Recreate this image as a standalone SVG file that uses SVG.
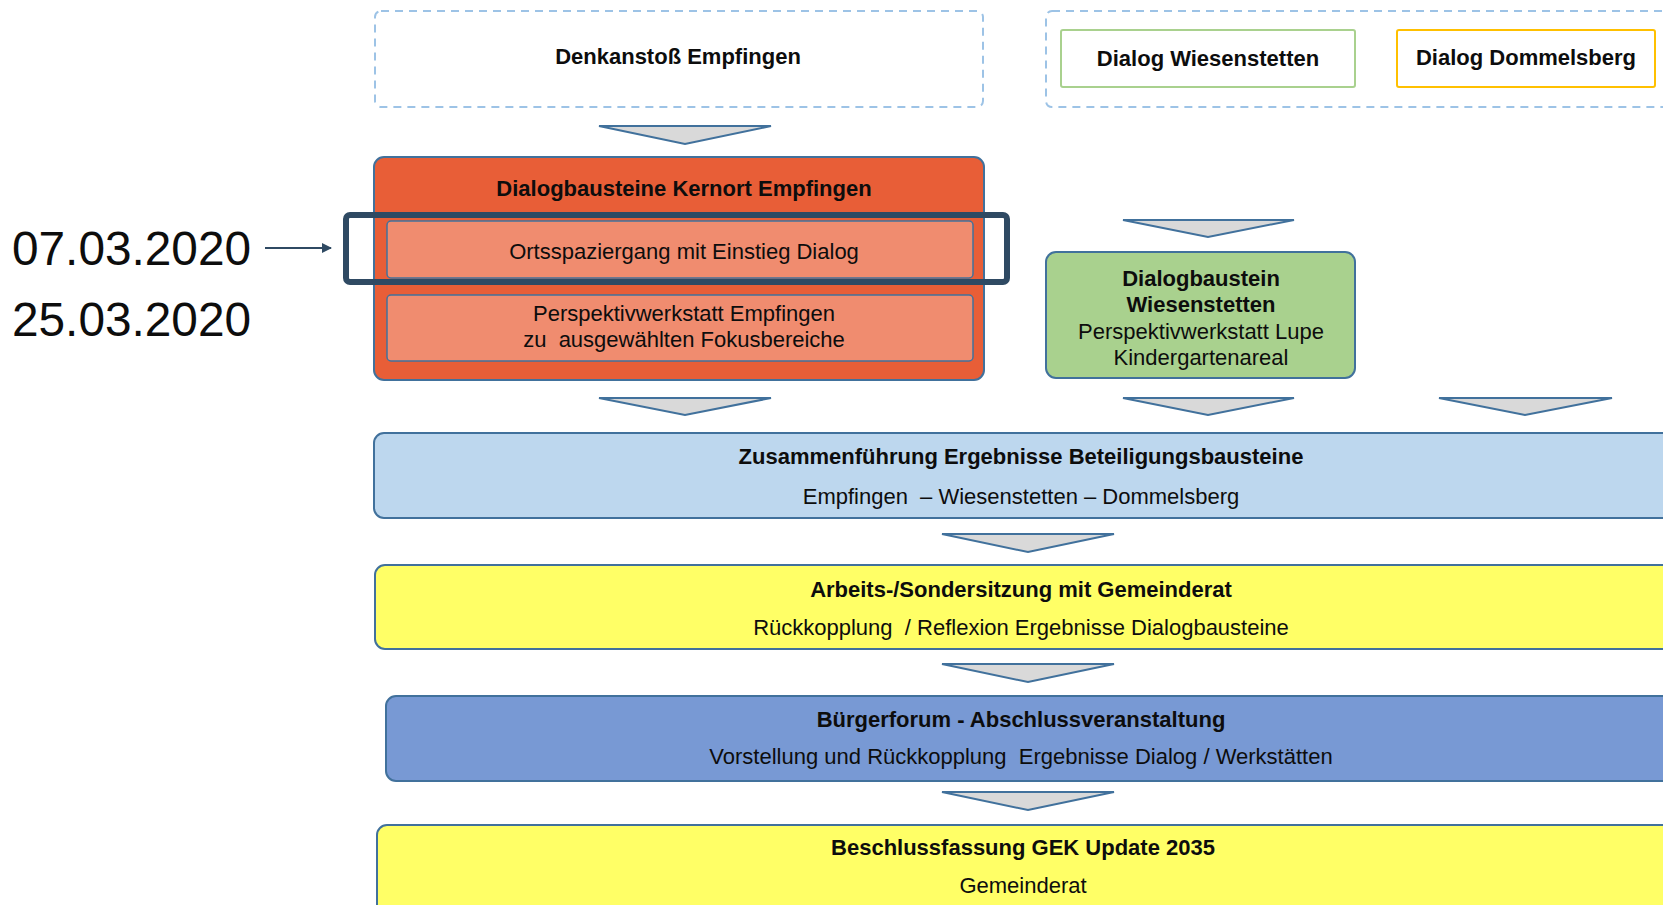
<svg xmlns="http://www.w3.org/2000/svg" width="1663" height="905" viewBox="0 0 1663 905">
<style>
text{font-family:"Liberation Sans",Arial,sans-serif;fill:#0d0d0d;text-anchor:middle}
.b{font-weight:bold;font-size:22px}
.r{font-size:22px}
.dash{fill:#fff;stroke:#9dc3e6;stroke-width:2;stroke-dasharray:8 6}
.box{stroke:#41719c;stroke-width:2}
.tri{fill:#d9d9d9;stroke:#41719c;stroke-width:2;stroke-linejoin:miter}
.date{font-size:48px;text-anchor:start}
</style>
<defs>
<marker id="ah" markerWidth="10" markerHeight="10" refX="9" refY="5" orient="auto" markerUnits="userSpaceOnUse">
<path d="M0,0 L10,5 L0,10 z" fill="#2f4a63"/>
</marker>
</defs>
<rect width="1663" height="905" fill="#fff"/>

<g id="denkanstoss">
<rect class="dash" x="375" y="11" width="608" height="96" rx="6"/>
<text class="b" x="678" y="64">Denkanstoß Empfingen</text>
</g>

<g id="dialog-gruppe">
<rect class="dash" x="1046" y="11" width="640" height="96" rx="6"/>
</g>

<g id="dialog-wiesenstetten">
<rect x="1061" y="30" width="294" height="57" rx="2" fill="#fff" stroke="#a9d18e" stroke-width="2"/>
<text class="b" x="1208" y="66">Dialog Wiesenstetten</text>
</g>

<g id="dialog-dommelsberg">
<rect x="1397" y="30" width="258" height="57" rx="2" fill="#fff" stroke="#ffc000" stroke-width="2"/>
<text class="b" x="1526" y="65">Dialog Dommelsberg</text>
</g>

<g id="kernort-empfingen">
<rect class="box" x="374" y="157" width="610" height="223" rx="10" fill="#e85e37"/>
<text class="b" x="684" y="196">Dialogbausteine Kernort Empfingen</text>
</g>

<g id="ortsspaziergang">
<rect x="387" y="221" width="586" height="57" rx="4" fill="#f08c6f" stroke="#41719c" stroke-width="1.5"/>
<text class="r" x="684" y="259">Ortsspaziergang mit Einstieg Dialog</text>
</g>

<g id="perspektivwerkstatt-empfingen">
<rect x="387" y="295" width="586" height="66" rx="4" fill="#f08c6f" stroke="#41719c" stroke-width="1.5"/>
<text class="r" x="684" y="321">Perspektivwerkstatt Empfingen</text>
<text class="r" x="684" y="347" xml:space="preserve">zu  ausgewählten Fokusbereiche</text>
</g>

<g id="highlight">
<rect x="346" y="215" width="661" height="67" rx="4" fill="none" stroke="#2f4a63" stroke-width="6"/>
</g>

<g id="datum-1">
<text class="date" x="12" y="265" textLength="239" lengthAdjust="spacingAndGlyphs">07.03.2020</text>
</g>
<g id="datum-2">
<text class="date" x="12" y="336" textLength="239" lengthAdjust="spacingAndGlyphs">25.03.2020</text>
</g>

<g id="dialogbaustein-wiesenstetten">
<rect class="box" x="1046" y="252" width="309" height="126" rx="10" fill="#a9d18e"/>
<text class="b" x="1201" y="286">Dialogbaustein</text>
<text class="b" x="1201" y="312">Wiesenstetten</text>
<text class="r" x="1201" y="339">Perspektivwerkstatt Lupe</text>
<text class="r" x="1201" y="365">Kindergartenareal</text>
</g>

<g id="zusammenfuehrung">
<rect class="box" x="374" y="433" width="1300" height="85" rx="10" fill="#bdd7ee"/>
<text class="b" x="1021" y="464">Zusammenführung Ergebnisse Beteiligungsbausteine</text>
<text class="r" x="1021" y="504" xml:space="preserve">Empfingen  – Wiesenstetten – Dommelsberg</text>
</g>

<g id="sondersitzung">
<rect class="box" x="375" y="565" width="1300" height="84" rx="10" fill="#ffff66"/>
<text class="b" x="1021" y="597">Arbeits-/Sondersitzung mit Gemeinderat</text>
<text class="r" x="1021" y="635" xml:space="preserve">Rückkopplung  / Reflexion Ergebnisse Dialogbausteine</text>
</g>

<g id="buergerforum">
<rect class="box" x="386" y="696" width="1300" height="85" rx="10" fill="#7899d4"/>
<text class="b" x="1021" y="727">Bürgerforum - Abschlussveranstaltung</text>
<text class="r" x="1021" y="764" xml:space="preserve">Vorstellung und Rückkopplung  Ergebnisse Dialog / Werkstätten</text>
</g>

<g id="beschlussfassung">
<rect class="box" x="377" y="825" width="1300" height="100" rx="10" fill="#ffff66"/>
<text class="b" x="1023" y="855">Beschlussfassung GEK Update 2035</text>
<text class="r" x="1023" y="893">Gemeinderat</text>
</g>

<g id="connectors">
<polygon class="tri" points="599,126 771,126 685,144"/>
<polygon class="tri" points="1123,220 1294,220 1208,237"/>
<polygon class="tri" points="599,398 771,398 685,415"/>
<polygon class="tri" points="1123,398 1294,398 1208,415"/>
<polygon class="tri" points="1439,398 1612,398 1525,415"/>
<polygon class="tri" points="942,534 1114,534 1028,552"/>
<polygon class="tri" points="942,664 1114,664 1028,682"/>
<polygon class="tri" points="942,792 1114,792 1028,810"/>
<line x1="265" y1="248" x2="331" y2="248" stroke="#2f4a63" stroke-width="2" marker-end="url(#ah)"/>
</g>
</svg>
